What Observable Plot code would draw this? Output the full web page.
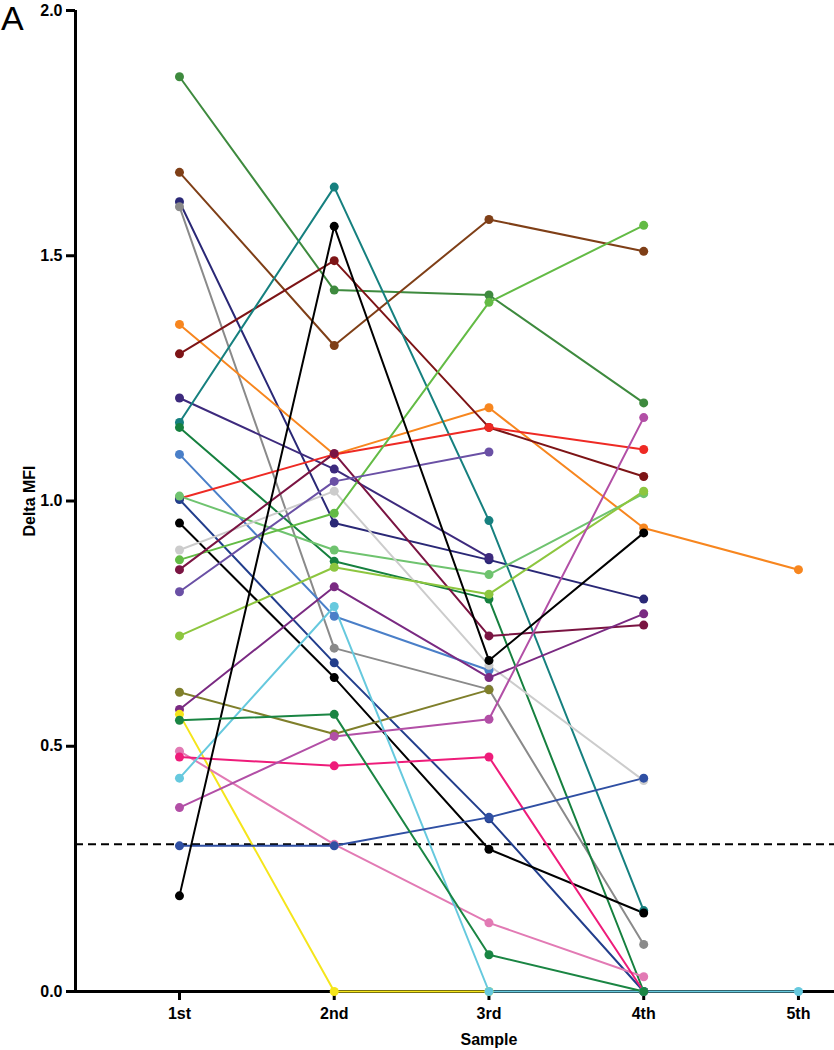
<!DOCTYPE html>
<html>
<head>
<meta charset="utf-8">
<script src="https://cdn.jsdelivr.net/npm/d3@7"></script>
<script src="https://cdn.jsdelivr.net/npm/@observablehq/plot@0.6"></script>
<style>
  html, body { margin: 0; padding: 0; background: #fff; }
  #wrap { position: relative; width: 834px; height: 1050px; font-family: Arial, "Liberation Sans", sans-serif; }
  #panel { position: absolute; left: 1px; top: -2px; font-size: 34px; line-height: 40px; font-weight: normal; color: #000; font-family: Arial, "Liberation Sans", sans-serif; }
  svg text { font-family: Arial, "Liberation Sans", sans-serif; }
</style>
</head>
<body>
<div id="wrap"><div id="panel">A</div></div>
<script>
// Sample labels (x categories)
const samples = ["1st", "2nd", "3rd", "4th", "5th"];
const yTicks = [0, 0.5, 1.0, 1.5, 2.0];
const threshold = 0.3;

// Each series: Delta MFI per sample (null = not measured)
const seriesValues = [
  [1.865, 1.43, 1.42, 1.20],
  [1.67, 1.317, 1.574, 1.509],
  [1.61, 0.955, 0.88, 0.80],
  [1.60, 0.70, 0.616, 0.096],
  [1.36, 1.095, 1.19, 0.945, 0.86],
  [1.30, 1.49, 1.15, 1.05],
  [1.21, 1.065, 0.885],
  [1.16, 1.64, 0.96, 0.165],
  [1.15, 0.877, 0.80, 0],
  [1.095, 0.765, 0.655],
  [1.005, 1.095, 1.15, 1.105],
  [1.003, 0.67, 0.352, 0],
  [1.01, 0.90, 0.85, 1.015],
  [0.955, 0.64, 0.29, 0.16],
  [0.90, 1.02, 0.665, 0.43],
  [0.88, 0.975, 1.405, 1.562],
  [0.86, 1.097, 0.725, 0.747],
  [0.815, 1.04, 1.10],
  [0.725, 0.865, 0.81, 1.02],
  [0.61, 0.525, 0.615],
  [0.575, 0.825, 0.64, 0.77],
  [0.565, 0, 0],
  [0.49, 0.30, 0.14, 0.03],
  [0.478, 0.46, 0.478, 0],
  [0.435, 0.785, 0, 0, 0],
  [0.375, 0.52, 0.555, 1.17],
  [0.297, 0.297, 0.355, 0.435],
  [0.195, 1.56, 0.675, 0.935],
  [0.553, 0.565, 0.075, 0]
];
const seriesColors = [
  "#3e8a3e", "#7f3f17", "#2a2876", "#8a8a8a", "#f7861f", "#7d1416",
  "#3d2a7d", "#16807f", "#16803f", "#4a7fc8", "#ee2a24", "#223e8c",
  "#6fc36f", "#000000", "#cccccc", "#63bb45", "#7a1442", "#6a50a5",
  "#8dc63f", "#7f7f2b", "#7a2a82", "#f5e51b", "#e27ab4", "#ee1c7a",
  "#66c9de", "#b24fa6", "#2f4fa3", "#000000", "#1a8543"
];

const rows = [];
seriesValues.forEach((vals, i) => {
  vals.forEach((v, j) => {
    if (v != null) rows.push({id: i, x: j + 1, v, color: seriesColors[i]});
  });
});

const xDomain = [0.328, 5.233];
const font = "Arial, 'Liberation Sans', sans-serif";

const chart = Plot.plot({
  width: 834,
  height: 1050,
  marginLeft: 75,
  marginRight: 0,
  marginTop: 10,
  marginBottom: 59,
  style: {fontFamily: font, background: "#fff", overflow: "visible"},
  x: {type: "linear", domain: xDomain},
  y: {domain: [0, 2]},
  color: {type: "identity"},
  marks: [
    Plot.ruleY([0], {stroke: "#000", strokeWidth: 3}),
    Plot.ruleX([xDomain[0]], {y1: 0, y2: 2, stroke: "#000", strokeWidth: 3}),
    Plot.axisY({
      ticks: yTicks, tickFormat: d3.format(".1f"), tickSize: 9, tickPadding: 4,
      strokeWidth: 3, fontSize: 16, fontWeight: "bold",
      label: "Delta MFI", labelAnchor: "center", labelArrow: "none", labelOffset: 52
    }),
    Plot.axisX({
      ticks: [1, 2, 3, 4, 5], tickFormat: d => samples[d - 1], tickSize: 9, tickPadding: 7,
      strokeWidth: 3, fontSize: 16, fontWeight: "bold", label: null
    }),
    Plot.text(["Sample"], {x: 3, frameAnchor: "bottom", dy: 53, fontSize: 16, fontWeight: "bold", text: d => d}),
    Plot.ruleY([threshold], {stroke: "#000", strokeWidth: 2, strokeDasharray: "8,5"}),
    Plot.line(rows, {x: "x", y: "v", z: "id", stroke: "color", strokeWidth: 2}),
    Plot.dot(rows, {x: "x", y: "v", fill: "color", r: 4.5, stroke: "none"})
  ]
});
document.getElementById("wrap").prepend(chart);
</script>
</body>
</html>
